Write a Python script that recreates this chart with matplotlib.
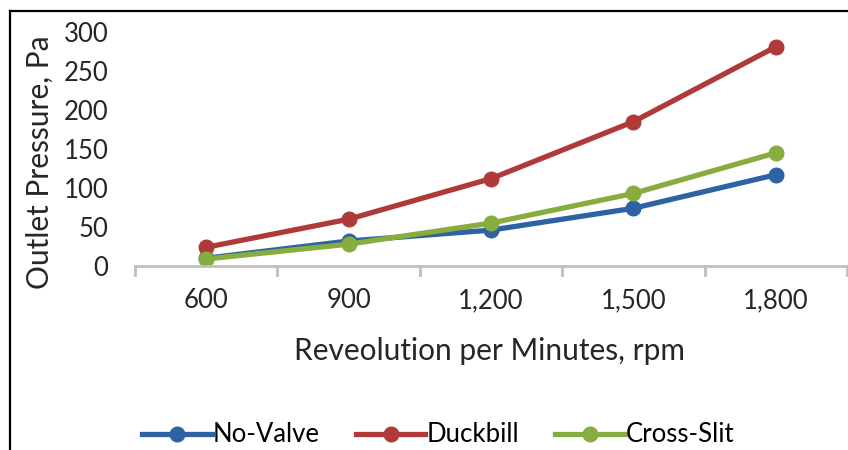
import matplotlib
matplotlib.use("Agg")
import matplotlib.pyplot as plt
from matplotlib.lines import Line2D

plt.rcParams['font.family'] = ['Lato', 'DejaVu Sans']

categories = ["600", "900", "1,200", "1,500", "1,800"]
no_valve = [10, 32, 46, 74, 117]
duckbill = [24, 60, 112, 185, 281]
cross_slit = [9, 28, 55, 93, 145]
y_ticks = [0, 50, 100, 150, 200, 250, 300]

colors = {"No-Valve": "#2e63a3", "Duckbill": "#b03a3a", "Cross-Slit": "#86ad3e"}
series = [("No-Valve", no_valve), ("Duckbill", duckbill), ("Cross-Slit", cross_slit)]

fig = plt.figure(figsize=(8.48, 4.5), dpi=100)
ax = fig.add_axes([135/848, 1-266/450, (847-135)/848, (266-32)/450])

x = list(range(len(categories)))
for name, vals in series:
    ax.plot(x, vals, color=colors[name], lw=3.8, marker='o', ms=10.5,
            markerfacecolor=colors[name], markeredgecolor=colors[name], solid_capstyle='round')

ax.set_xlim(-0.5, len(categories) - 0.5)
ax.set_ylim(0, 300)
ax.set_yticks(y_ticks)
ax.set_yticklabels([str(v) for v in y_ticks], fontsize=18.5, color='#262626')
ax.set_xticks(x)
ax.set_xticklabels(categories, fontsize=18.5, color='#262626')
ax.tick_params(axis='y', length=0, pad=19)
ax.tick_params(axis='x', length=0, pad=16)
for b in [k - 0.5 for k in range(len(categories) + 1)]:
    ax.plot([b, b], [0, -12], color='#bfbfbf', lw=2, clip_on=False)
for s in ['top', 'right', 'left']:
    ax.spines[s].set_visible(False)
ax.spines['bottom'].set_color('#bfbfbf')
ax.spines['bottom'].set_linewidth(2)
ax.set_ylim(0, 300)

fig.text(40/848, 1-162/450, "Outlet Pressure, Pa", fontsize=21.5, color='#262626',
         rotation=90, ha='center', va='center')
fig.text(490/848, 1-351/450, "Reveolution per Minutes, rpm", fontsize=21.5, color='#262626',
         ha='center', va='center')

handles = [Line2D([0], [0], color=colors[n], lw=3.8, marker='o', ms=10.5) for n, _ in series]
fig.legend(handles, [n for n, _ in series], loc='center', bbox_to_anchor=(0.517, 1-435/450),
           ncol=3, frameon=False, fontsize=18.5, handlelength=2.7, handletextpad=0.05,
           columnspacing=1.4, borderpad=0.2)

fig.add_artist(Line2D([10/848, 10/848], [0, 1-11/450], color='black', lw=1.6, transform=fig.transFigure))
fig.add_artist(Line2D([10/848, 1], [1-11/450, 1-11/450], color='black', lw=1.6, transform=fig.transFigure))

fig.savefig("out.png", dpi=100)
